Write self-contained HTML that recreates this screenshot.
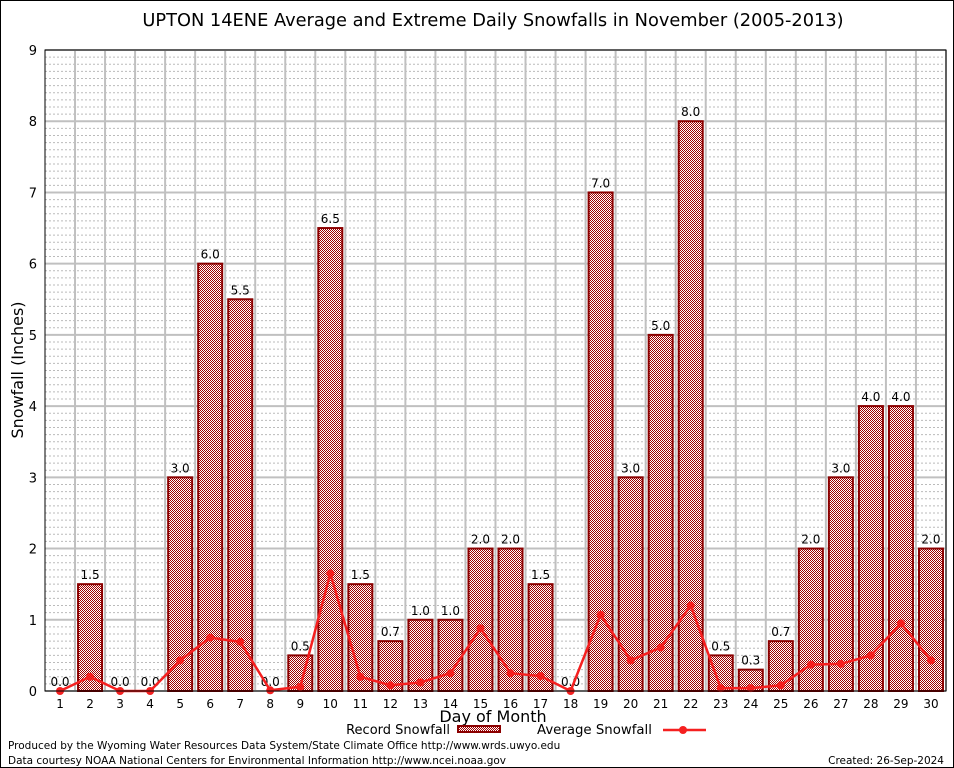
<!DOCTYPE html>
<html><head><meta charset="utf-8"><style>
body{margin:0;background:#fff}
svg{display:block}
text{font-family:"DejaVu Sans","Liberation Sans",sans-serif}
</style></head><body>
<svg id="chart" width="954" height="768" viewBox="0 0 954 768" xmlns="http://www.w3.org/2000/svg">
<defs>
<pattern id="chk" width="2" height="2" patternUnits="userSpaceOnUse">
<rect width="2" height="2" fill="#fff"/>
<rect width="1" height="1" fill="#a00000"/><rect x="1" y="1" width="1" height="1" fill="#a00000"/>
</pattern>
</defs>
<rect x="0.5" y="0.5" width="953" height="767" fill="#fff" stroke="#000"/>
<text x="493" y="26" font-size="17.8" text-anchor="middle">UPTON 14ENE Average and Extreme Daily Snowfalls in November (2005-2013)</text>
<g id="grid"></g>
<g id="bars"></g>
<g id="line"></g>
<g id="axes"></g>
<text transform="translate(23,370) rotate(-90)" font-size="16" text-anchor="middle">Snowfall (Inches)</text>
<text x="493" y="722" font-size="16" text-anchor="middle">Day of Month</text>
<g>
<text x="450" y="734" font-size="13" text-anchor="end">Record Snowfall</text>
<rect x="458" y="726" width="42" height="6" fill="url(#chk)" stroke="#8b0000" stroke-width="2"/>
</g>
<g>
<text x="537" y="734" font-size="13.3">Average Snowfall</text>
<line x1="663" y1="730" x2="706" y2="730" stroke="#f52020" stroke-width="2.5"/>
<circle cx="683" cy="730" r="4" fill="#f52020"/>
</g>
<text x="8" y="749" font-size="10.5">Produced by the Wyoming Water Resources Data System/State Climate Office http://www.wrds.uwyo.edu</text>
<text x="8" y="764" font-size="10.5">Data courtesy NOAA National Centers for Environmental Information http://www.ncei.noaa.gov</text>
<text x="944" y="764" font-size="10.5" text-anchor="end">Created: 26-Sep-2024</text>
</svg>
<script>
const days=[1,2,3,4,5,6,7,8,9,10,11,12,13,14,15,16,17,18,19,20,21,22,23,24,25,26,27,28,29,30];
const recordValues=[0,1.5,0,0,3,6,5.5,0,0.5,6.5,1.5,0.7,1,1,2,2,1.5,0,7,3,5,8,0.5,0.3,0.7,2,3,4,4,2];
const averageValues=[0,0.2,0,0,0.43,0.75,0.69,0.01,0.06,1.65,0.2,0.08,0.12,0.25,0.88,0.25,0.21,0,1.07,0.43,0.61,1.2,0.04,0.04,0.08,0.37,0.38,0.5,0.95,0.43];
const yTicks=[0,1,2,3,4,5,6,7,8,9];
const L=45,R=946,T=50,B=691,NS="http://www.w3.org/2000/svg";
const xs=d=>L+(d-0.5)*(R-L)/30;
const ys=v=>B-v*(B-T)/9;
function mk(tag,attrs,parent,txt){const e=document.createElementNS(NS,tag);for(const k in attrs)e.setAttribute(k,attrs[k]);if(txt!==undefined)e.textContent=txt;parent.appendChild(e);return e;}
const grid=document.getElementById('grid'),bars=document.getElementById('bars'),line=document.getElementById('line'),axes=document.getElementById('axes');
for(let v=0;v<9;v+=0.1){const r=Math.round(v*10);if(r%10===0)continue;const y=ys(r/10);
const g=mk('line',{x1:L,x2:R,y1:y,y2:y,stroke:'#bbb','stroke-dasharray':'2,2','stroke-width':1},grid);

}
yTicks.forEach(v=>{const y=ys(v);
const g=mk('line',{x1:L,x2:R,y1:y,y2:y,stroke:'#c0c0c0','stroke-width':2},grid);


const t=mk('text',{x:37,y:y+5,'font-size':13,'text-anchor':'end','font-family':'DejaVu Serif,Liberation Serif,serif'},axes,String(v));

});
days.forEach(d=>{const x=xs(d)+15;
const g=mk('line',{x1:x,x2:x,y1:T,y2:B,stroke:'#c0c0c0','stroke-width':2},grid);

});
days.forEach((d,i)=>{const v=recordValues[i],x=xs(d);
const b=mk('rect',{x:x-12,y:ys(v),width:24,height:B-ys(v),fill:'url(#chk)',stroke:'#8b0000','stroke-width':2},bars);


const t=mk('text',{x:x,y:ys(v)-5,'font-size':12,'text-anchor':'middle'},bars,v.toFixed(1));


const tl=mk('text',{x:x,y:708,'font-size':12,'text-anchor':'middle','font-family':'DejaVu Serif,Liberation Serif,serif'},axes,String(d));

});
const pts=days.map((d,i)=>xs(d)+','+ys(averageValues[i])).join(' ');
const pl=mk('polyline',{points:pts,fill:'none',stroke:'#f52020','stroke-width':2.5},line);


days.forEach((d,i)=>{const c=mk('circle',{cx:xs(d),cy:ys(averageValues[i]),r:4,fill:'#f52020'},line);

});
const fr=mk('rect',{x:L,y:T,width:R-L,height:B-T,fill:'none',stroke:'#000','stroke-width':1},axes);


</script>
</body></html>
